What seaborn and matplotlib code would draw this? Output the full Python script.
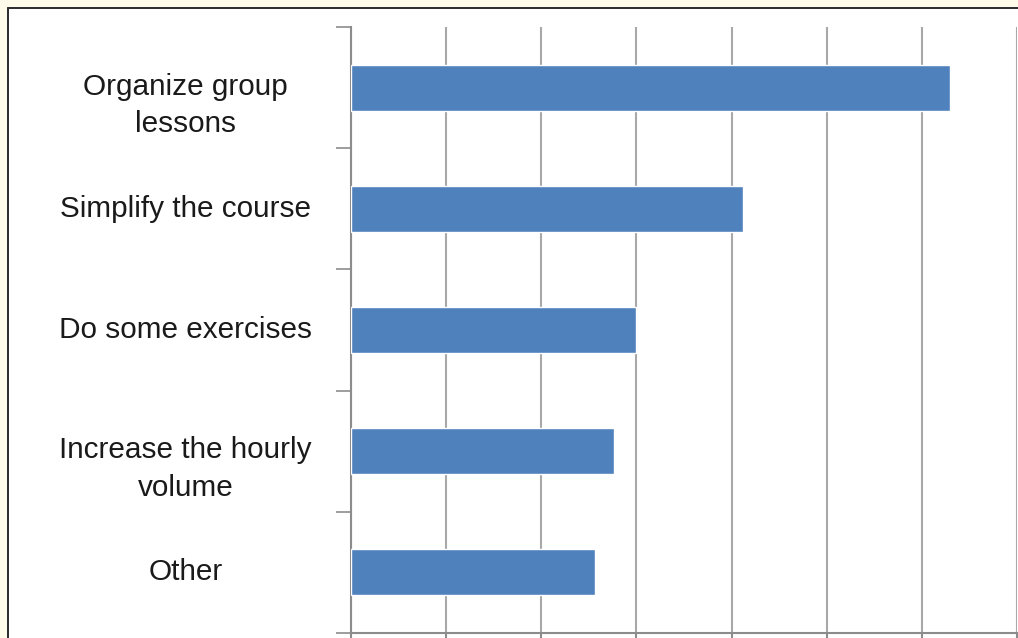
import matplotlib
matplotlib.use("Agg")
import matplotlib.pyplot as plt
import seaborn as sns
import pandas as pd
from matplotlib.patches import Rectangle
from matplotlib.lines import Line2D
from matplotlib.ticker import MultipleLocator, FixedLocator
from matplotlib.transforms import ScaledTranslation

categories = ["Organize group\nlessons", "Simplify the course", "Do some exercises",
              "Increase the hourly\nvolume", "Other"]
values = [31.5, 20.6, 15.0, 13.8, 12.8]
x_max = 35
x_step = 5

sns.set_theme(style="white")
plt.rcParams["font.family"] = ["Liberation Sans", "DejaVu Sans"]

W, H = 1018, 638
fig = plt.figure(figsize=(W / 100, H / 100), dpi=100, facecolor="#FFFBEA")
fig.patches.append(Rectangle((8 / W, 0), 1 - 8 / W, 1 - 8 / H, transform=fig.transFigure,
                             facecolor="white", edgecolor="none", zorder=-10))
fig.add_artist(Line2D([7.5 / W, 7.5 / W], [0, 1 - 7.5 / H], transform=fig.transFigure,
                      color="#2b2b2b", lw=1.4, zorder=-5))
fig.add_artist(Line2D([7.5 / W, 1], [1 - 7.5 / H, 1 - 7.5 / H], transform=fig.transFigure,
                      color="#2b2b2b", lw=1.4, zorder=-5))

ax = fig.add_axes([351 / W, 5 / H, 666 / W, 606 / H])
ax.set_facecolor("none")

df = pd.DataFrame({"cat": categories, "val": values})
sns.barplot(data=df, x="val", y="cat", orient="h", color="#4F81BD", saturation=1,
            width=0.38, ax=ax, zorder=3)

ax.set_xlim(0, x_max)
ax.xaxis.set_major_locator(MultipleLocator(x_step))
ax.grid(axis="x", color="#a8a8a8", lw=1.5, zorder=0)
ax.grid(axis="y", visible=False)
ax.set_axisbelow(True)
ax.set_xlabel("")
ax.set_ylabel("")

for s in ["top", "right"]:
    ax.spines[s].set_visible(False)
for s in ["left", "bottom"]:
    ax.spines[s].set_visible(True)
    ax.spines[s].set_color("#8c8c8c")
    ax.spines[s].set_linewidth(1.5)

ax.tick_params(axis="x", which="major", bottom=True, direction="out", length=8, width=1.5,
               color="#8c8c8c", labelbottom=False)
ax.yaxis.set_minor_locator(FixedLocator([i - 0.5 for i in range(len(categories) + 1)]))
ax.tick_params(axis="y", which="minor", left=True, direction="out", length=11, width=1.2,
               color="#8c8c8c")
ax.tick_params(axis="y", which="major", left=True, length=0, pad=119, labelsize=21.4,
               labelcolor="#1a1a1a")
for lab in ax.get_yticklabels():
    lab.set_ha("center")
    lab.set_va("center")
    lab.set_multialignment("center")
    lab.set_linespacing(1.44)
    if "\n" in lab.get_text():
        lab.set_transform(lab.get_transform() +
                          ScaledTranslation(0, -13 / 72, fig.dpi_scale_trans))

fig.savefig("out.png", dpi=100, facecolor=fig.get_facecolor())
